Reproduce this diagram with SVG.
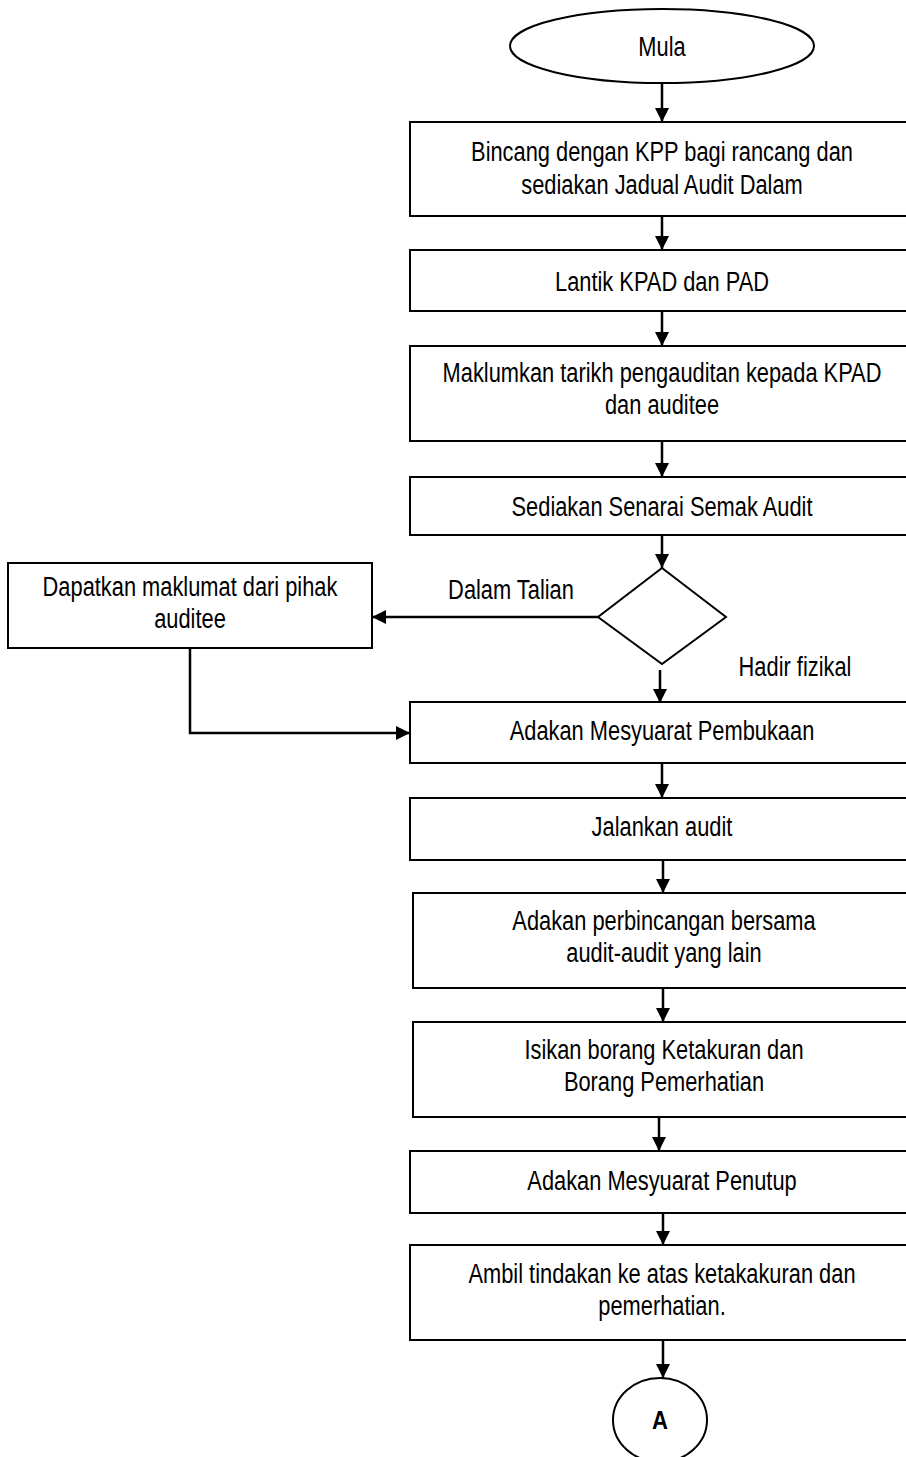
<svg xmlns="http://www.w3.org/2000/svg" width="906" height="1457" viewBox="0 0 906 1457">
<defs>
<style>
.n{fill:#fff;stroke:#000;stroke-width:2}
.t{font-family:"Liberation Sans",Arial,sans-serif;font-size:28px;fill:#000;text-anchor:middle}
.b{font-family:"Liberation Sans",Arial,sans-serif;font-size:26px;font-weight:bold;fill:#000;text-anchor:middle}
.c{fill:none;stroke:#000;stroke-width:2.5}
</style>
<marker id="ah" markerUnits="userSpaceOnUse" markerWidth="14" markerHeight="14" viewBox="0 0 14 14" refX="14" refY="7" orient="auto">
<path d="M0,0 L14,7 L0,14 Z" fill="#000"/>
</marker>
</defs>
<rect width="906" height="1457" fill="#fff"/>
<g id="connectors">
<path class="c" d="M662,83 V122" marker-end="url(#ah)"/>
<path class="c" d="M662,216 V250" marker-end="url(#ah)"/>
<path class="c" d="M662,311 V346" marker-end="url(#ah)"/>
<path class="c" d="M662,441 V477" marker-end="url(#ah)"/>
<path class="c" d="M662,535 V568" marker-end="url(#ah)"/>
<path class="c" d="M598,617 H372" marker-end="url(#ah)"/>
<path class="c" d="M660,670 V703" marker-end="url(#ah)"/>
<path class="c" d="M190,648 V733 H410" marker-end="url(#ah)"/>
<path class="c" d="M662,763 V798" marker-end="url(#ah)"/>
<path class="c" d="M663,860 V893" marker-end="url(#ah)"/>
<path class="c" d="M663,988 V1022" marker-end="url(#ah)"/>
<path class="c" d="M659,1117 V1151" marker-end="url(#ah)"/>
<path class="c" d="M663,1213 V1245" marker-end="url(#ah)"/>
<path class="c" d="M663,1340 V1378" marker-end="url(#ah)"/>
</g>
<g id="mula"><ellipse class="n" cx="662" cy="46" rx="152" ry="37"/><text class="t" transform="translate(662 0) scale(0.78 1)" y="56">Mula</text></g>
<g id="bincang"><rect class="n" x="410" y="122" width="520" height="94"/><text class="t" transform="translate(662 0) scale(0.78 1)" y="161">Bincang dengan KPP bagi rancang dan</text><text class="t" transform="translate(662 0) scale(0.78 1)" y="194">sediakan Jadual Audit Dalam</text></g>
<g id="lantik"><rect class="n" x="410" y="250" width="520" height="61"/><text class="t" transform="translate(662 0) scale(0.78 1)" y="291">Lantik KPAD dan PAD</text></g>
<g id="maklumkan"><rect class="n" x="410" y="346" width="520" height="95"/><text class="t" transform="translate(662 0) scale(0.78 1)" y="382">Maklumkan tarikh pengauditan kepada KPAD</text><text class="t" transform="translate(662 0) scale(0.78 1)" y="414">dan auditee</text></g>
<g id="senarai"><rect class="n" x="410" y="477" width="520" height="58"/><text class="t" transform="translate(662 0) scale(0.78 1)" y="516">Sediakan Senarai Semak Audit</text></g>
<g id="keputusan"><polygon class="n" points="662,568 726,617 662,664 598,617"/></g>
<g id="label-dalam"><text class="t" transform="translate(511 0) scale(0.78 1)" y="599">Dalam Talian</text></g>
<g id="label-hadir"><text class="t" transform="translate(795 0) scale(0.78 1)" y="676">Hadir fizikal</text></g>
<g id="dapatkan"><rect class="n" x="8" y="563" width="364" height="85"/><text class="t" transform="translate(190 0) scale(0.78 1)" y="596">Dapatkan maklumat dari pihak</text><text class="t" transform="translate(190 0) scale(0.78 1)" y="628">auditee</text></g>
<g id="pembukaan"><rect class="n" x="410" y="702" width="520" height="61"/><text class="t" transform="translate(662 0) scale(0.78 1)" y="740">Adakan Mesyuarat Pembukaan</text></g>
<g id="jalankan"><rect class="n" x="410" y="798" width="520" height="62"/><text class="t" transform="translate(662 0) scale(0.78 1)" y="836">Jalankan audit</text></g>
<g id="perbincangan"><rect class="n" x="413" y="893" width="520" height="95"/><text class="t" transform="translate(664 0) scale(0.78 1)" y="930">Adakan perbincangan bersama</text><text class="t" transform="translate(664 0) scale(0.78 1)" y="962">audit-audit yang lain</text></g>
<g id="isikan"><rect class="n" x="413" y="1022" width="520" height="95"/><text class="t" transform="translate(664 0) scale(0.78 1)" y="1059">Isikan borang Ketakuran dan</text><text class="t" transform="translate(664 0) scale(0.78 1)" y="1091">Borang Pemerhatian</text></g>
<g id="penutup"><rect class="n" x="410" y="1151" width="520" height="62"/><text class="t" transform="translate(662 0) scale(0.78 1)" y="1190">Adakan Mesyuarat Penutup</text></g>
<g id="ambil"><rect class="n" x="410" y="1245" width="520" height="95"/><text class="t" transform="translate(662 0) scale(0.78 1)" y="1283">Ambil tindakan ke atas ketakakuran dan</text><text class="t" transform="translate(662 0) scale(0.78 1)" y="1315">pemerhatian.</text></g>
<g id="penyambung-a"><ellipse class="n" cx="660" cy="1420" rx="47" ry="42"/><text class="b" transform="translate(660 0) scale(0.85 1)" y="1429">A</text></g>
</svg>
